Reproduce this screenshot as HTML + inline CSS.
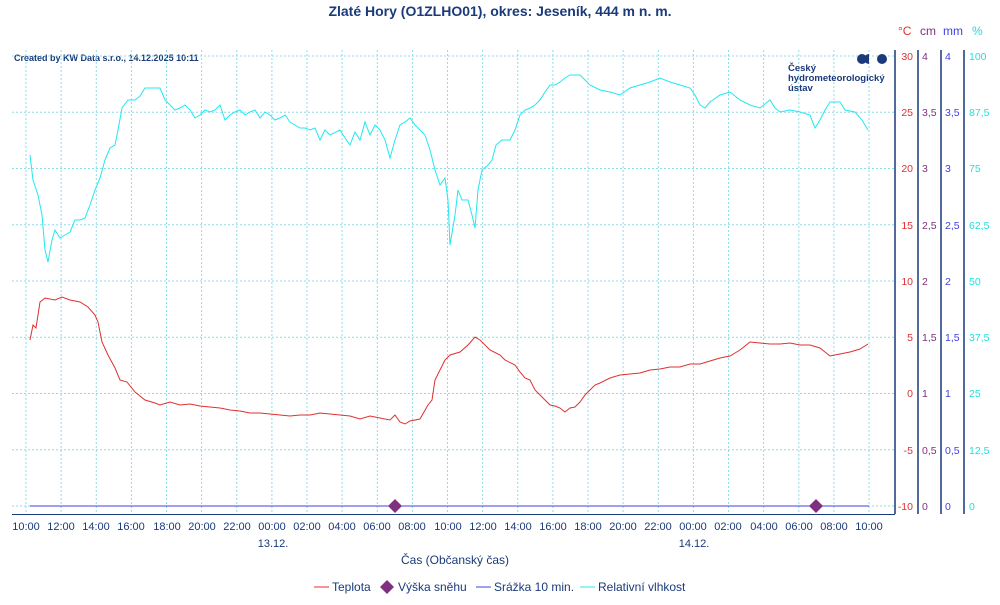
<!DOCTYPE html>
<html><head><meta charset="utf-8"><style>
body{margin:0;background:#fff}
svg text{font-family:"Liberation Sans",Arial,sans-serif}
</style></head><body>
<svg width="1000" height="600" xmlns="http://www.w3.org/2000/svg">
<rect width="1000" height="600" fill="#fff"/>
<text x="500" y="16" text-anchor="middle" font-size="14" font-weight="bold" fill="#1a3a7a">Zlaté Hory (O1ZLHO01), okres: Jeseník, 444 m n. m.</text>
<text x="14" y="61" font-size="9" font-weight="bold" fill="#1a3a7a">Created by KW Data s.r.o., 14.12.2025 10:11</text>
<g stroke="#8fdcea" stroke-width="1" stroke-dasharray="2,2">
<path d="M26 50V514M61.1 50V514M96.3 50V514M131.4 50V514M166.5 50V514M201.6 50V514M236.8 50V514M271.9 50V514M307 50V514M342.1 50V514M377.3 50V514M412.4 50V514M447.5 50V514M482.6 50V514M517.8 50V514M552.9 50V514M588 50V514M623.1 50V514M658.3 50V514M693.4 50V514M728.5 50V514M763.6 50V514M798.8 50V514M833.9 50V514M869 50V514"/>
<path d="M12 56H895M12 112.25H895M12 168.5H895M12 224.75H895M12 281H895M12 337.25H895M12 393.5H895M12 449.75H895M12 506H895"/>
</g>
<line x1="12" y1="514.5" x2="895" y2="514.5" stroke="#1a3a7a"/>
<g stroke="#1a3a7a" stroke-width="1.5">
<line x1="895" y1="50" x2="895" y2="514"/><line x1="918" y1="50" x2="918" y2="514"/><line x1="941" y1="50" x2="941" y2="514"/><line x1="964" y1="50" x2="964" y2="514"/>
</g>
<g font-size="11" fill="#1a3a7a" text-anchor="middle">
<text x="26" y="530">10:00</text><text x="61" y="530">12:00</text><text x="96" y="530">14:00</text><text x="131" y="530">16:00</text><text x="167" y="530">18:00</text><text x="202" y="530">20:00</text><text x="237" y="530">22:00</text><text x="272" y="530">00:00</text><text x="307" y="530">02:00</text><text x="342" y="530">04:00</text><text x="377" y="530">06:00</text><text x="412" y="530">08:00</text><text x="448" y="530">10:00</text><text x="483" y="530">12:00</text><text x="518" y="530">14:00</text><text x="553" y="530">16:00</text><text x="588" y="530">18:00</text><text x="623" y="530">20:00</text><text x="658" y="530">22:00</text><text x="693" y="530">00:00</text><text x="728" y="530">02:00</text><text x="764" y="530">04:00</text><text x="799" y="530">06:00</text><text x="834" y="530">08:00</text><text x="869" y="530">10:00</text>
<text x="273" y="547">13.12.</text><text x="694" y="547">14.12.</text>
<text x="455" y="564" font-size="12">Čas (Občanský čas)</text>
</g>
<g font-size="11">
<text x="898" y="35" font-size="12" fill="#e03030">°C</text>
<text x="920" y="35" font-size="12" fill="#803080">cm</text>
<text x="943" y="35" font-size="12" fill="#4040e0">mm</text>
<text x="972" y="35" font-size="12" fill="#20d8e0">%</text>
</g>
<g font-size="10.5" fill="#e03030" text-anchor="end">
<text x="913" y="60">30</text><text x="913" y="116">25</text><text x="913" y="172">20</text><text x="913" y="229">15</text><text x="913" y="285">10</text><text x="913" y="341">5</text><text x="913" y="397">0</text><text x="913" y="454">-5</text><text x="913" y="510">-10</text>
</g>
<g font-size="10.5" fill="#803080">
<text x="922" y="60">4</text><text x="922" y="116">3,5</text><text x="922" y="172">3</text><text x="922" y="229">2,5</text><text x="922" y="285">2</text><text x="922" y="341">1,5</text><text x="922" y="397">1</text><text x="922" y="454">0,5</text><text x="922" y="510">0</text>
</g>
<g font-size="10.5" fill="#4040e0">
<text x="945" y="60">4</text><text x="945" y="116">3,5</text><text x="945" y="172">3</text><text x="945" y="229">2,5</text><text x="945" y="285">2</text><text x="945" y="341">1,5</text><text x="945" y="397">1</text><text x="945" y="454">0,5</text><text x="945" y="510">0</text>
</g>
<g font-size="10.5" fill="#20e0e0">
<text x="969" y="60">100</text><text x="969" y="116">87,5</text><text x="969" y="172">75</text><text x="969" y="229">62,5</text><text x="969" y="285">50</text><text x="969" y="341">37,5</text><text x="969" y="397">25</text><text x="969" y="454">12,5</text><text x="969" y="510">0</text>
</g>
<g fill="#1a3a7a">
<circle cx="862" cy="59" r="5"/><path d="M869 54a5 5 0 0 0 0 10z"/><circle cx="882" cy="59" r="5"/>
</g>
<g font-size="9.5" font-weight="bold" fill="#1a3a7a">
<text x="788" y="71">Český</text><text x="788" y="81">hydrometeorologický</text><text x="788" y="91">ústav</text>
</g>
<line x1="30" y1="506" x2="869" y2="506" stroke="#4040e0" stroke-width="1"/>
<polyline fill="none" stroke="#20e8f0" stroke-width="1" points="30,155 33,180 38,195 42,215 45,250 48,262 52,240 55,230 60,238 65,235 70,232 75,220 80,220 85,218 90,205 95,190 100,178 105,160 110,148 115,145 118,130 122,108 128,100 135,100 140,96 145,88 150,88 160,88 165,100 170,105 175,110 180,108 185,105 190,110 195,118 200,115 205,110 210,112 215,110 220,105 225,120 230,115 235,112 240,110 245,115 250,112 255,110 260,118 265,112 270,115 275,120 280,118 285,115 290,122 295,125 300,128 305,128 310,130 315,128 320,140 325,130 330,135 340,130 345,138 350,145 355,132 360,140 365,122 370,135 375,125 380,130 385,140 390,158 395,140 400,125 405,122 410,118 415,125 420,130 425,135 430,150 435,170 440,185 445,178 448,200 450,245 455,215 458,190 462,200 468,200 472,215 475,228 478,190 482,170 488,165 492,160 496,145 502,140 510,140 515,130 520,115 525,110 530,108 535,105 540,100 545,92 550,85 555,85 560,82 565,78 570,75 580,75 585,80 590,85 600,90 610,92 620,95 630,88 640,85 650,82 660,78 670,82 680,85 690,88 695,95 700,105 705,108 710,102 720,95 730,92 740,100 750,105 760,108 770,100 775,108 780,112 790,110 800,112 810,115 815,128 820,120 825,110 830,102 840,102 845,110 855,112 862,120 868,130"/>
<polyline fill="none" stroke="#e03030" stroke-width="1" points="30,340 33,325 36,328 40,302 45,298 55,300 62,297 70,300 80,302 88,307 95,315 98,322 102,342 108,355 115,368 120,380 127,382 135,392 145,400 155,403 160,405 170,402 180,405 190,404 200,406 210,407 220,408 230,410 240,411 250,413 260,413 270,414 280,415 290,416 300,415 310,415 320,413 330,414 340,415 350,416 360,419 370,416 380,418 390,420 395,415 400,422 405,424 410,421 420,419 428,405 432,400 435,380 440,370 445,360 450,355 460,352 468,345 475,337 480,340 485,345 490,350 500,355 505,360 515,365 520,372 525,378 530,380 535,390 540,395 545,400 550,405 555,406 560,408 565,412 570,408 575,407 580,402 585,395 590,390 595,385 600,383 610,378 620,375 630,374 640,373 650,370 660,369 670,367 680,367 690,364 700,364 710,361 720,358 730,356 740,350 745,346 750,342 760,343 770,344 780,344 790,343 800,345 810,345 820,348 825,352 830,356 840,354 850,352 860,349 868,344"/>
<path d="M395 499l7 7-7 7-7-7z" fill="#803080"/>
<path d="M816 499l7 7-7 7-7-7z" fill="#803080"/>
<g font-size="12" fill="#1a3a7a">
<line x1="314" y1="587" x2="329" y2="587" stroke="#e03030"/>
<text x="332" y="591">Teplota</text>
<path d="M387 580l7 7-7 7-7-7z" fill="#803080"/>
<text x="398" y="591">Výška sněhu</text>
<line x1="476" y1="587" x2="491" y2="587" stroke="#4040e0"/>
<text x="494" y="591">Srážka 10 min.</text>
<line x1="580" y1="587" x2="595" y2="587" stroke="#20e8f0"/>
<text x="598" y="591">Relativní vlhkost</text>
</g>
</svg>
</body></html>
